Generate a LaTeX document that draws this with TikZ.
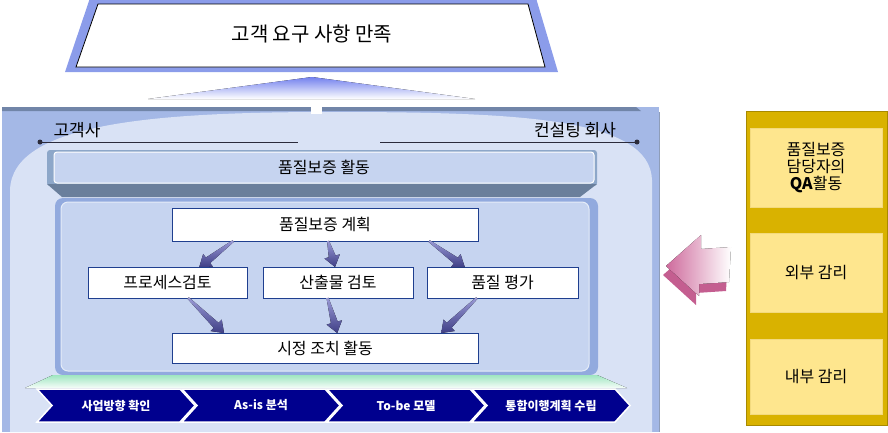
\documentclass[tikz,border=0pt]{standalone}
\usepackage{fontspec}
\setmainfont{Noto Sans CJK KR}
\usetikzlibrary{calc}

\definecolor{frameblue}{HTML}{A4B8E6}
\definecolor{lightblue}{HTML}{D9E2F5}
\definecolor{panelblue}{HTML}{C6D4F0}
\definecolor{panelrim}{HTML}{92AADE}
\definecolor{edgeblue}{HTML}{7185A8}
\definecolor{barside}{HTML}{8DA7C9}
\definecolor{barshadow}{HTML}{6A7F9C}
\definecolor{boxline}{HTML}{1F3F8F}
\definecolor{darkline}{HTML}{2B2B3B}
\definecolor{chevnavy}{HTML}{00008E}
\definecolor{goldcol}{HTML}{D9B200}
\definecolor{golddark}{HTML}{A88A00}
\definecolor{paleyellow}{HTML}{FEE68E}
\definecolor{yellowline}{HTML}{F3DA7E}
\definecolor{arrowpink}{HTML}{CE6A9C}
\definecolor{arrowdark}{HTML}{C45E90}
\definecolor{arrowtop}{HTML}{9A9AD6}
\definecolor{arrowbot}{HTML}{3F3F86}
\definecolor{mint}{HTML}{9FE6C0}

% 굵어지는 화살표
\newcommand\qaarrow[2]{%
  \path (#1) coordinate (qt) (#2) coordinate (qh);
  \path ($(qh)!11pt!(qt)$) coordinate (qb);
  \fill[qarrow] ($(qt)!1pt!90:(qh)$) -- ($(qb)!3.5pt!90:(qh)$) -- ($(qb)!8pt!90:(qh)$)
    -- (qh) -- ($(qb)!8pt!-90:(qh)$) -- ($(qb)!3.5pt!-90:(qh)$) -- ($(qt)!1pt!-90:(qh)$) -- cycle;}

\begin{document}
\begin{tikzpicture}[x=1pt,y=-1pt,
  every node/.style={inner sep=0pt,outer sep=0pt,font=\fontsize{16}{17}\selectfont},
  stepbox/.style={draw=boxline,fill=white,line width=0.9pt},
  chev/.style={fill=chevnavy,draw=white,line width=1.5pt},
  chevtext/.style={text=white,font=\fontsize{12}{13}\selectfont\bfseries},
  auditbox/.style={fill=paleyellow,draw=yellowline,line width=0.8pt,minimum width=132pt,align=center},
  qarrow/.style={top color=arrowtop,bottom color=arrowbot}]
\useasboundingbox (0,0) rectangle (888,432);

% 목표
\fill[frameblue!85!blue] (90,-2) -- (536,-2) -- (558,72) -- (65,72) -- cycle;
\draw[fill=white,line width=0.8pt] (98,4) -- (528,4) -- (545,67) -- (76,67) -- cycle;
\node[font=\fontsize{20}{22}\selectfont] (goal) at (312,34) {고객 요구 사항 만족};
\fill[top color=frameblue!70!blue,bottom color=white] (312,77) -- (475,99) -- (148,99) -- cycle;

% 바탕 패널
\fill[frameblue] (2,107) rectangle (659,432);
\draw[edgeblue!80,line width=0.8pt] (659,112) -- (659,432);
\fill[lightblue] (10,432) -- (10,190) .. controls (12,124) and (150,112) .. (330,112)
  .. controls (520,112) and (650,118) .. (652,180) -- (652,432) -- cycle;
\fill[edgeblue] (2,107) -- (636,107) -- (641,111) -- (2,111) -- cycle;
\fill[white] (311,104) rectangle (322,114);

% 고객사 / 컨설팅 회사
\node[font=\fontsize{17}{19}\selectfont] (cust) at (77,130) {고객사};
\node[font=\fontsize{17}{19}\selectfont] (cons) at (575,130) {컨설팅 회사};
\coordinate (cl) at (40,142);
\coordinate (cm) at (298,142);
\coordinate (cn) at (380,142);
\coordinate (cr) at (637,142);
\draw[darkline,line width=1pt] (cl) -- (cm) (cn) -- (cr);
\fill[darkline] (cl) circle (2.5) (cr) circle (2.5);

% 품질보증 활동
\fill[barside,rounded corners=3pt] (47,150) rectangle (597,186);
\fill[barshadow] (47,184) -- (597,184) -- (580,197) -- (62,197) -- cycle;
\node[draw=white,fill=panelblue,rounded corners=3pt,line width=1pt,
  minimum width=540pt,minimum height=31pt] (qabar) at (324,167.5) {품질보증 활동};

% 안쪽 패널
\fill[panelrim,rounded corners=8pt] (55,198) rectangle (598,375);
\draw[fill=panelblue,draw=white!55!panelblue,line width=1pt,rounded corners=7pt] (61,202) rectangle (589,371);

\node[stepbox,minimum width=306pt,minimum height=33pt] (plan) at (325,224.5) {품질보증 계획};
\node[stepbox,minimum width=159pt,minimum height=31pt] (proc) at (167.5,282.5) {프로세스검토};
\node[stepbox,minimum width=150pt,minimum height=31pt] (prod) at (338,282.5) {산출물 검토};
\node[stepbox,minimum width=151pt,minimum height=31pt] (eval) at (502.5,282.5) {품질 평가};
\node[stepbox,minimum width=306pt,minimum height=30pt] (act) at (325,348) {시정 조치 활동};

\qaarrow{$(plan.south west)!0.2!(plan.south east)$}{$(proc.north west)!0.7!(proc.north east)$}
\qaarrow{$(plan.south west)!0.51!(plan.south east)$}{$(prod.north west)!0.48!(prod.north east)$}
\qaarrow{$(plan.south west)!0.84!(plan.south east)$}{$(eval.north west)!0.25!(eval.north east)$}
\qaarrow{$(proc.south west)!0.63!(proc.south east)$}{$(act.north west)!0.17!(act.north east)$}
\qaarrow{$(prod.south west)!0.43!(prod.south east)$}{$(act.north west)!0.54!(act.north east)$}
\qaarrow{$(eval.south west)!0.33!(eval.south east)$}{$(act.north west)!0.88!(act.north east)$}

% 단계
\fill[top color=mint,bottom color=mint!10] (53,375) -- (597,375) -- (627,388) -- (25,388) -- cycle;
\foreach \i/\txt in {0/사업방향 확인,1/As-is 분석,2/To-be 모델,3/통합이행계획 수립}{
  \pgfmathsetmacro\xa{37+145*\i}
  \draw[chev] (\xa,389) -- ++(143,0) -- ++(15,16.5) -- ++(-15,16.5) -- ++(-143,0) -- ++(15,-16.5) -- cycle;
  \node[chevtext] (s\i) at (\xa+79,405.5) {\txt};
}

% 감리
\draw[fill=goldcol,draw=golddark,line width=0.8pt] (746,111) rectangle (887,425);
\node[auditbox,minimum height=79pt] (qa) at (816,167.5) {품질보증\\담당자의\\\textbf{QA}활동};
\node[auditbox,minimum height=79pt] (ext) at (816,272.5) {외부 감리};
\node[auditbox,minimum height=75pt] (int) at (816,376.5) {내부 감리};

\fill[arrowdark] (663,275) -- (698,244) -- (698,258) -- (728,256) -- (726,291) -- (696,293) -- (696,305) -- cycle;
\fill[left color=arrowpink,right color=white] (666,266) -- (701,235) -- (701,249) -- (731,247) -- (729,282) -- (699,284) -- (699,296) -- cycle;
\end{tikzpicture}
\end{document}
